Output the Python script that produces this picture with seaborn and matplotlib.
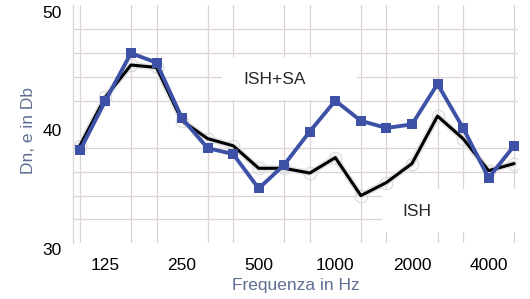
import matplotlib
matplotlib.use("Agg")
import matplotlib.pyplot as plt
import matplotlib.transforms as mtrans
from matplotlib.patches import Rectangle
import seaborn as sns
import pandas as pd
import numpy as np

bands = [100, 125, 160, 200, 250, 315, 400, 500, 630, 800, 1000, 1250, 1600, 2000, 2500, 3150, 4000, 5000]
ish_sa = [37.8, 42.0, 46.0, 45.2, 40.5, 38.0, 37.5, 34.6, 36.6, 39.4, 42.0, 40.3, 39.7, 40.0, 43.4, 39.7, 35.5, 38.2]
ish = [38.2, 42.3, 45.0, 44.8, 40.3, 38.8, 38.2, 36.3, 36.3, 35.9, 37.2, 34.0, 35.1, 36.7, 40.7, 38.8, 36.1, 36.7]
tick_labels = ["125", "250", "500", "1000", "2000", "4000"]
tick_bands = [125, 250, 500, 1000, 2000, 4000]

sns.set_style("white")
plt.rcParams['font.family'] = ['Liberation Sans', 'DejaVu Sans']

idx = np.arange(len(bands))
df_sa = pd.DataFrame({"idx": idx, "val": ish_sa})
df_ish = pd.DataFrame({"idx": idx, "val": ish})

fig = plt.figure(figsize=(5.30, 2.99), dpi=100)
ax = fig.add_axes([0.1377, 0.187, 0.8396, 0.796])

# grid
ax.set_xticks(idx, minor=True)
ax.set_yticks(np.arange(30, 51, 2), minor=True)
ax.grid(which="minor", color="#ddd3d4", linewidth=0.9)
ax.set_axisbelow(True)

# label boxes (above grid, below lines)
ax.add_patch(Rectangle((0.335, 0.601), 0.303, 0.180, transform=ax.transAxes,
                       facecolor="white", edgecolor="none", zorder=1.5))
ax.add_patch(Rectangle((0.694, 0.046), 0.306, 0.181, transform=ax.transAxes,
                       facecolor="white", edgecolor="none", zorder=1.5))
ax.text(0.454, 0.689, "ISH+SA", transform=ax.transAxes, fontsize=12.5,
        va="center", ha="center", zorder=1.6)
ax.text(0.773, 0.134, "ISH", transform=ax.transAxes, fontsize=12.5,
        va="center", ha="center", zorder=1.6)

# ISH: faint halo, ghost circles, black line
sns.lineplot(data=df_ish, x="idx", y="val", ax=ax, color="#e3e3e3", linewidth=4.5, zorder=2)
sns.lineplot(data=df_ish, x="idx", y="val", ax=ax, color="none", linewidth=0, marker="o",
             markersize=9, markerfacecolor="none", markeredgecolor="#d9d9d9",
             markeredgewidth=0.8, zorder=2.1)
sns.lineplot(data=df_ish, x="idx", y="val", ax=ax, color="black", linewidth=2.2, zorder=3)
# ISH+SA
sns.lineplot(data=df_sa, x="idx", y="val", ax=ax, color="#3d51a6",
             linewidth=2.8, marker="s", markersize=6.5, markeredgewidth=0, zorder=4)

ax.set_xlim(-0.27, 17.15)
ax.set_ylim(30, 50.05)
ax.set_xticks([bands.index(b) for b in tick_bands])
ax.set_xticklabels(tick_labels)
ax.set_yticks([30, 40, 50])
ax.tick_params(axis="both", which="both", length=0, labelsize=12.5, colors="black")
ax.tick_params(axis="x", pad=11)
ax.tick_params(axis="y", pad=8)
off = mtrans.ScaledTranslation(0, -6 / 100, fig.dpi_scale_trans)
for lab in ax.get_yticklabels():
    lab.set_transform(lab.get_transform() + off)
for s in ["top", "right", "bottom"]:
    ax.spines[s].set_visible(False)
ax.spines["left"].set_color("#ddd3d4")
ax.spines["left"].set_linewidth(0.9)

ax.set_xlabel("Frequenza in Hz", color="#5f6f93", fontsize=12.5, labelpad=3)
ax.set_ylabel("Dn, e in Db", color="#5f6f93", fontsize=12.5, labelpad=8)
ax.yaxis.set_label_coords(-0.083, 0.475)

fig.savefig("out.png", dpi=100)
